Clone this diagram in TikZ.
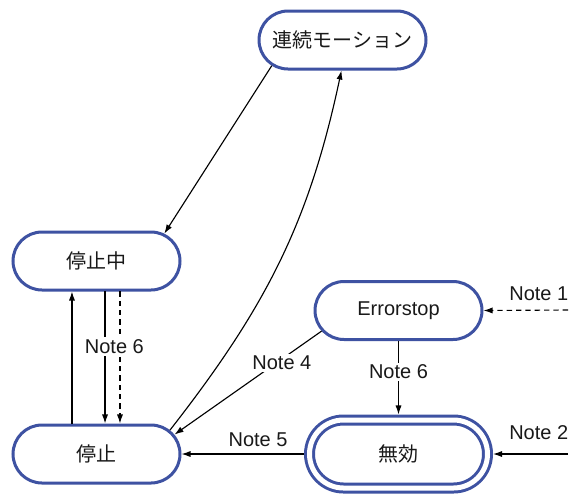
\documentclass[tikz,border=0pt]{standalone}
\usepackage{fontspec}
\setmainfont{Liberation Sans}
\newfontfamily\jp{Noto Sans CJK JP}
\usetikzlibrary{shapes.misc,arrows.meta}
\definecolor{nodeblue}{RGB}{62,82,162}
\definecolor{txt}{RGB}{25,25,25}
\tikzset{
  state/.style={rounded rectangle, draw=nodeblue, fill=white, line width=2.25pt,
    minimum width=125.25pt, minimum height=43.5pt, inner sep=0pt, outer sep=1.1pt,
    text=txt, font=\fontsize{15pt}{18pt}\selectfont},
  dstate/.style={state, double=white, double distance=3.75pt,
    minimum width=133.5pt, minimum height=51pt, outer sep=4.1pt},
  arr/.style={-{Latex[length=6.8pt,width=4.6pt]}, line width=0.85pt, draw=black},
  dsh/.style={dash pattern=on 4pt off 3pt},
  lbl/.style={text=txt, font=\fontsize{15pt}{18pt}\selectfont, inner sep=1.5pt}
}
\begin{document}
\begin{tikzpicture}[x=0.75pt,y=-0.75pt]
\useasboundingbox (0,0) rectangle (571,494);
\node[state] (ren) at (342.5,40) {\jp 連続モーション};
\node[state] (tz) at (96.5,261) {\jp 停止中};
\node[state] (tei) at (96.5,454) {\jp 停止};
\node[state] (es) at (398.5,310.5) {Errorstop};
\node[dstate] (mu) at (398.5,454) {\jp 無効};
\coordinate (n1) at (568,310);
\coordinate (n2) at (568,454);

\draw[arr] (ren.200) -- (tz.22);
\draw[arr] (tei.18) to[out=52,in=258] (ren.268);
\draw[arr] ([xshift=-18.4pt]tei.north) -- ([xshift=-18.4pt]tz.south);
\draw[arr,dsh] ([xshift=17.6pt]tz.south) -- ([xshift=17.6pt]tei.north);
\draw[arr] ([xshift=6.4pt]tz.south) -- ([xshift=6.4pt]tei.north)
  node[lbl, fill=white, pos=0.417, xshift=7pt] {Note 6};
\draw[arr] (es.195.7) -- (tei.14)
  node[lbl, fill=white, pos=0.27, yshift=-3pt] {Note 4};
\draw[arr] (mu.west) -- (tei.east)
  node[lbl, pos=0.375, yshift=10.5pt] {Note 5};
\draw[arr] (es.south) -- (mu.north)
  node[lbl, fill=white, pos=0.42] {Note 6};
\draw[arr,dsh] (n1) -- (es.east)
  node[lbl, pos=0.345, yshift=12.4pt] {Note 1};
\draw[arr] (n2) -- (mu.east)
  node[lbl, pos=0.39, yshift=16pt] {Note 2};
\end{tikzpicture}
\end{document}
